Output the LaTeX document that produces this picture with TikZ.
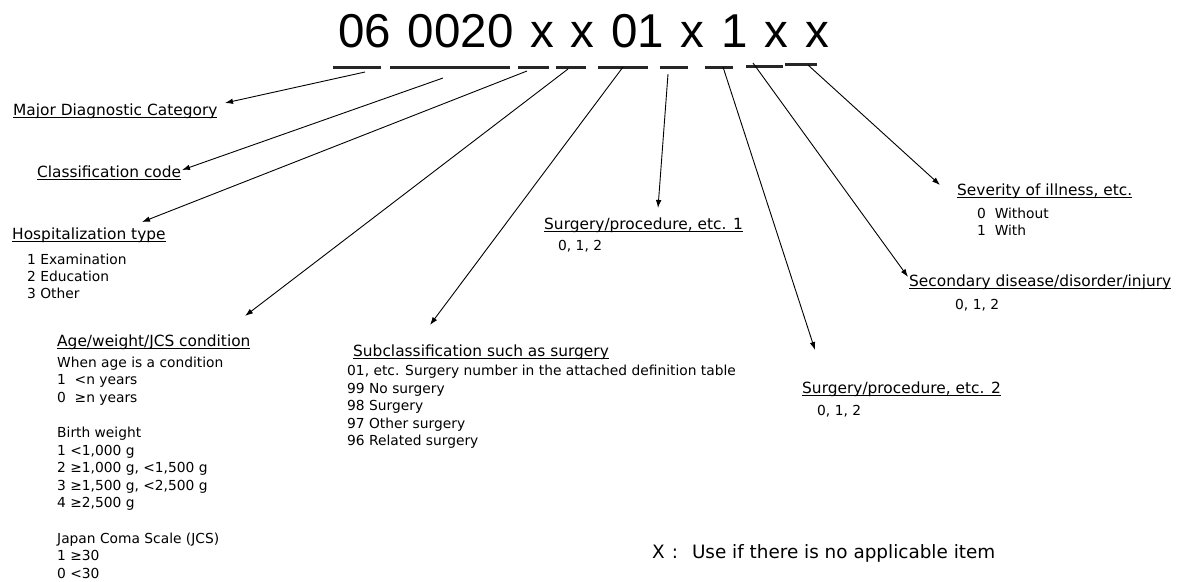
\documentclass[tikz,border=0pt]{standalone}
\usepackage{fontspec}
\setmainfont{DejaVu Sans}
\newfontfamily\codefont{Liberation Sans}
\usetikzlibrary{arrows.meta}
\newcommand{\ulhead}[1]{\setbox0\hbox{#1}\rlap{\rule[-2.6pt]{\wd0}{0.9pt}}\box0}
\tikzset{
    head/.style ={anchor=base west, inner sep=0pt, font=\fontsize{15.4}{18}\selectfont},
    body/.style ={anchor=base west, inner sep=0pt, font=\fontsize{13.8}{16}\selectfont},
    note/.style ={anchor=base west, inner sep=0pt, font=\fontsize{18.4}{20}\selectfont},
    bar/.style ={line width=3pt, draw=black!85},
    pointer/.style ={-{Latex[length=8pt,width=5.5pt]}, line width=0.9pt}
}
\begin{document}
\begin{tikzpicture}[x=1pt,y=-1pt]
        \useasboundingbox (0,0) rectangle (1185,581);
        % code line
        \node[anchor=base west, inner sep=0pt, font=\fontsize{47.5}{50}\selectfont\codefont] (code) at (338,47) {\spaceskip=16.8pt 06 0020 x x 01 x 1 x x};
        \draw[bar] (333,67)--(381,67);
        \draw[bar] (390,67)--(510,67);
        \draw[bar] (518,67)--(549,67);
        \draw[bar] (556,67)--(586,67);
        \draw[bar] (598,67)--(648,67);
        \draw[bar] (660,67)--(688,67);
        \draw[bar] (705,67)--(733,67);
        \draw[bar] (746,66)--(783,66);
        \draw[bar] (785,64)--(817,64);
        % headings
        \node[head] (mdc) at (13,115) {\ulhead{Major Diagnostic Category}};
        \node[head] (cls) at (37,177) {\ulhead{Classification code}};
        \node[head] (hosp) at (12,239) {\ulhead{Hospitalization type}};
        \node[head] (age) at (57,346) {\ulhead{Age/weight/JCS condition}};
        \node[head] (sub) at (353,356) {\ulhead{Subclassification such as surgery}};
        \node[head] (surgA) at (544,229) {\ulhead{Surgery/procedure, etc. 1}};
        \node[head] (sev) at (957,195) {\ulhead{Severity of illness, etc.}};
        \node[head] (sec) at (909,286) {\ulhead{Secondary disease/disorder/injury}};
        \node[head] (surgB) at (802,393) {\ulhead{Surgery/procedure, etc. 2}};
        % item lists
        \foreach \txt [count=\i] in {1 Examination, 2 Education, 3 Other}
            \node[body] (hosp-\i) at (27,{247+17*\i}) {\txt};
        \foreach \txt [count=\i] in {When age is a condition, 1\ \ <n years, 0\ \ ≥n years}
            \node[body] (agea-\i) at (57,{349.4+17.6*\i}) {\txt};
        \foreach \txt [count=\i] in {Birth weight, {1 <1,000 g}, {2 ≥1,000 g, <1,500 g}, {3 ≥1,500 g, <2,500 g}, {4 ≥2,500 g}}
            \node[body] (ageb-\i) at (57,{419.8+17.6*\i}) {\txt};
        \foreach \txt [count=\i] in {Japan Coma Scale (JCS), 1 ≥30, 0 <30}
            \node[body] (agec-\i) at (57,{525.4+17.6*\i}) {\txt};
        \foreach \txt [count=\i] in {{01, etc. Surgery number in the attached definition table}, 99 No surgery, 98 Surgery, 97 Other surgery, 96 Related surgery}
            \node[body] (sub-\i) at (347,{358.5+17.4*\i}) {\txt};
        \node[body] (surgA-1) at (558,250) {0, 1, 2};
        \node[body] (sev-1) at (977,218) {0\ \ Without};
        \node[body] (sev-2) at (977,235) {1\ \ With};
        \node[body] (sec-1) at (955,309) {0, 1, 2};
        \node[body] (surgB-1) at (817,415) {0, 1, 2};
        \node[note] (xnote) at (652,558) {X\hspace{7pt}:\hspace{14pt}Use if there is no applicable item};
        % pointers
        \coordinate (s1) at (365,72);  \coordinate (t1) at (225,103);
        \coordinate (s2) at (443,78);  \coordinate (t2) at (182,170);
        \coordinate (s3) at (527,71);  \coordinate (t3) at (142,222);
        \coordinate (s4) at (568,69);  \coordinate (t4) at (245,316);
        \coordinate (s5) at (623,67);  \coordinate (t5) at (430,325);
        \coordinate (s6) at (668,74);  \coordinate (t6) at (658,208);
        \coordinate (s7) at (723,67);  \coordinate (t7) at (815,350);
        \coordinate (s8) at (753,63);  \coordinate (t8) at (908,277);
        \coordinate (s9) at (808,65);  \coordinate (t9) at (940,185);
        \foreach \i in {1,...,9}
            \draw[pointer] (s\i)--(t\i);
    \end{tikzpicture}
\end{document}
